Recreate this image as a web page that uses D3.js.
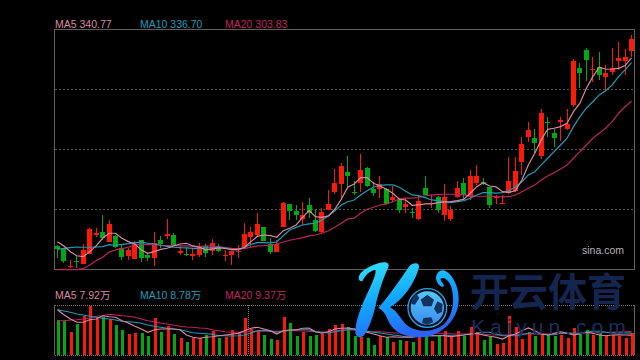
<!DOCTYPE html>
<html>
<head>
<meta charset="utf-8">
<style>
  html, body { margin: 0; padding: 0; background: #000; }
  svg { display: block; }
  text { font-family: "Liberation Sans", "Noto Sans CJK SC", sans-serif; }
</style>
<script src="https://d3js.org/d3.v7.min.js"></script>
</head>
<body>
<svg id="chart" width="640" height="360"></svg>
<script>
// candles
const highs = [180.1,177.6,167.3,171.6,181,194.5,194.5,205.9,201.6,188.7,180.1,177.8,183.8,184.4,173,191.3,188.1,202.5,190.2,179.3,177.3,176.7,181.9,181,185.3,181,175.9,175.3,180.1,198.8,195.9,207.4,195.3,185.9,184.4,217.3,215.4,214.5,217.3,220.3,210.8,211.7,227.4,245.2,250.3,256.6,235.1,258.3,246.9,234.5,239.4,228.8,230.8,220.3,220.3,211.7,223.1,239.7,223.1,222.2,232.3,213.6,235.1,238,244.6,248.9,238,230.2,223.1,223.1,255.5,255.5,273.2,285.5,279.8,297,289.8,279.8,289.8,297,339.9,336.2,349.6,341.4,345.7,334.8,349.6,354.3,348.5,360.5];
const lows = [168.7,164.9,160.1,160.1,163.8,172,187.3,184.4,182.7,177.8,167.3,167.3,167.9,165.8,166.4,162.1,177.3,185,179.3,171.6,170.7,167.3,169.8,170.1,171.5,174.4,166.7,163,168.7,177.3,177.3,187.3,183.6,172.4,174.4,195.3,201.6,201.6,197.3,203.1,191.6,190.2,210.2,223.9,218.8,230.2,223.1,225.9,229.7,222.2,220.3,214.5,217.3,207.4,207.9,203.3,201.6,223.1,211.7,207.9,200.8,201,220.3,219.4,218.8,231.7,231.7,211.7,215,215.4,223.9,225.9,240.3,268.9,258.9,254,273.2,264.6,269.7,278.9,298.9,315.3,321,320.4,321.9,312.7,326.2,330.5,326.2,341.9];
const opens = [179.3,177.3,161,166.7,164.1,172.4,188.7,191.3,182.7,188.1,177.6,170.7,168.1,184.4,171.6,169.2,184.4,187.9,188.7,173.5,172.4,171,171.5,179.3,175,178.7,171,171.6,174.1,178.2,187,188.7,195.3,180.7,174.4,195.3,215.4,209.3,202.2,214.5,201.6,191.6,210.2,225.9,232.5,242.8,225.7,233.7,246.3,228,228,228.2,218.8,219.4,212.5,208.5,202.5,229.1,215.1,221.6,205.7,202.5,221.4,233.7,221.6,233.7,234.3,229.7,220.1,215.4,224.6,226.8,251.7,272.9,271.8,256.9,285.8,276.6,286.1,279.8,300.4,332.2,347.7,330.7,333,324.5,328.8,338.5,338.5,346.8];
const closes = [176.7,166.4,162.1,165.8,175.8,193.6,190.4,186.2,198.2,178.7,169.8,175.9,181,169.2,169.2,181.6,181,189.6,180.1,174.7,171.6,172.4,178.4,173,181.6,175.3,171.6,174.7,175,189.6,191.3,198.2,183.6,174.4,180.7,216.5,209.3,205.9,205.9,207.4,192.2,208.5,215.4,233.7,248,239.4,224.6,244.6,230.8,225.1,232.3,215.4,221.4,210.2,215.6,207.6,217.9,223.1,216.2,210.2,221.1,210.2,229.1,223.1,239.4,239.4,232.5,214.5,221.1,216.2,235.1,243.7,266.9,278.7,267.5,293.5,284.9,272.1,287.5,284.1,338.2,327.9,339.1,331.6,326.2,327.9,331.9,340.8,341.6,357.1];

const ma5 = [183,179.3,174.4,170.9,170.1,174.4,179.3,185.9,190.2,190.2,185.9,183,181,175.9,173,174.4,176.4,177.3,179.3,181,181.6,179.3,178.2,175.9,176.7,177.6,177.1,176.4,176.4,178.2,183,187.6,188.7,188.1,186.8,192.4,194.5,197.3,203.9,209.6,204.5,203.9,205.1,210.8,219.4,229.7,232.5,238,238,233.1,230.8,228,224.6,219.4,218.8,214.2,214.5,215.4,215.4,216.5,217.1,217.3,218.2,219.4,224.6,230.2,233.7,230.8,230,225.9,225.4,226.8,236,248.9,258.9,270.4,279.5,280.4,281.8,284.7,294.7,301.9,314.7,324.7,332.8,331.1,331.3,331.9,334.2,340.8];
const ma10 = [176.4,177.3,177.8,178.4,178.2,178.2,178.4,178.7,180.4,179.9,180.7,181.3,182.1,182.5,181.6,181,179.9,179,178.2,177.8,177.6,177.3,177.3,177.6,177.6,178,177.6,175.9,175.9,177.8,180.7,182.1,182.1,181.9,182.7,188.1,193,195.3,197.3,198.2,198.8,201.6,205.1,209.4,214.5,217.3,218.8,223.1,226.8,229.7,231.4,231.7,231.7,229.7,226.3,223.1,222.5,220.8,218.8,218.2,217.1,216.5,217.3,218.2,220.3,223.1,225.1,225.1,224.6,225.1,226.8,230.2,234.5,240.3,243.1,248.9,254.6,260.3,266,271.8,281.8,290.4,297.6,303.2,309,312.7,317.6,324.7,330.5,336.7];
const ma20 = [159,159,159,159,159.8,163,166.7,169.6,173.9,175.9,177,178.2,180.4,181,180.4,180.4,179.9,179.5,179.5,179.3,179.3,179,178.7,179.3,179.3,178.7,177.8,177.3,177,177,178.2,179.3,179.5,179.9,181,182.7,184.2,185.3,186.4,187.9,188.7,190.2,192.4,195.3,198.8,202.5,203.1,207.4,210.8,212.5,214.5,215.4,217.3,219.7,220.3,220.3,221.1,222.2,223.1,223.4,223.7,223.7,223.4,223.1,222.5,222,222,222.2,221.6,221.4,221.6,223.1,225.9,228.9,231.7,236,239.4,242.2,245.4,248.9,254.6,260.3,266,271.8,276.1,280.4,286.1,293.3,298.9,303.83];

// volume, in 万
const volumes = [14.1,13.5,9.1,12.3,15.7,19.7,14.4,15.1,14.4,12.1,10.1,8.5,8.9,8.9,7.7,14.9,9.1,11.7,8.5,6.7,5.3,6.7,6.8,8,9.7,6.7,7.1,10.1,8.8,14.7,10.4,10.1,8.1,6.5,6.1,15.3,12.9,7.7,9.3,7.7,8.1,8.3,10.5,12.1,12.5,11.1,7.7,7.1,6.7,4.1,7.5,7.1,5.3,6.1,5.7,5.3,7.1,8.8,5.7,7.7,9.7,7.1,9.7,7.7,11.2,9.3,6.1,7.1,4.5,4.9,15.7,11.3,6.4,9.1,7.7,8,8.1,7.5,8,6.7,10.9,8.4,10.1,8.1,8.7,7.5,8.1,7.5,6.7,8.7];
const volMa5 = [18.1,16.1,14.4,13.1,13.1,14.1,14.4,15.7,15.3,15.1,13.7,12.8,11.5,10.4,9.1,10.1,10.4,10.4,10.4,10.1,8,7.1,6.7,7.1,7.3,7.7,8,8.3,8.7,9.7,10.7,11.1,10.4,9.7,8.4,9.7,10,10,10.7,10.8,9.3,8.7,9.3,10.4,10.7,10.8,10.4,9.7,9.1,8.4,7.7,7.1,7.3,7.1,7.1,7.1,7.5,7.7,7.7,7.7,7.7,7.3,7.7,8,8.4,8.7,8,7.5,7.1,6.4,7.7,8.4,9.7,10.8,9.7,8.4,8,8.7,9.3,8.7,8,8.4,9.1,8.7,8,7.7,8,8.1,8,7.92];
const volMa10 = [18.1,17.6,17.1,16.4,16,15.5,15.1,14.7,14.4,14,13.5,13.3,13.1,12.7,12,11.5,11.1,10.7,10.4,10.1,9.5,8.9,8.7,8.5,8.3,7.7,7.7,7.6,7.7,8,8.8,9.7,9.9,9.5,9.1,9.5,10,10.1,10.1,10.1,9.3,9.1,8.8,9.3,9.7,10.1,10.4,9.7,9.5,9.1,8.8,8.4,8,7.7,7.3,7.3,7.5,7.7,7.7,7.7,8,7.7,7.7,8,8.4,8.7,9.1,9.1,8.4,7.7,7.7,7.7,8.1,8.7,8.7,8.4,8.1,8.1,8.7,8.7,8.7,8.8,9.1,9.5,9.5,9.1,8.8,8.8,8.8,8.78];
const volMa20 = [13.7,13.7,14,14.1,14.4,14.7,15.5,15.7,16.3,16,15.7,15.5,15.1,14.4,13.7,13.3,12.8,12.4,12,11.5,11.2,11.1,10.8,10.7,10.1,9.7,9.3,9.1,9.1,9.1,9.5,9.5,9.5,9.5,9.5,9.6,9.7,9.7,9.6,9.5,9.3,9.1,9.3,9.7,10,10,10,9.7,9.5,9.3,9.3,9.1,8.8,8.8,8.7,8.7,8.7,8.7,8.7,8.7,8.7,8.4,8.4,8.4,8.4,8.4,8.3,8.1,8,8,8.1,8.3,8.4,8.4,8.4,8.4,8.4,8.5,8.7,8.7,8.7,8.7,8.8,8.9,9.1,9.1,9.1,9.2,9.3,9.37];

const priceLabels = ['MA5 340.77', 'MA10 336.70', 'MA20 303.83'];
const volumeLabels = ['MA5 7.92万', 'MA10 8.78万', 'MA20 9.37万'];
const priceGrid = [313.3, 261.75, 210.2];

const colors = { up: '#fb1a08', down: '#00a812', frame: '#5f5f5f', grid: '#555555' };
const maColors = ['#dc88a2', '#1f9cb8', '#c0245f'];

const svg = d3.select('#chart');

const x = d3.scaleBand().domain(d3.range(highs.length)).range([54.25, 634.75]);
const cx = i => x(i) + x.bandwidth() / 2;
const yPrice = d3.scaleLinear().domain([159.5, 364.8]).range([269, 30]);
const yVol = d3.scaleLinear().domain([0, 20]).range([355, 305]);

const isUp = i => closes[i] >= opens[i];
const tone = i => isUp(i) ? colors.up : colors.down;

// frames and grid
svg.append('rect').attr('width', 640).attr('height', 360).attr('fill', '#000');

svg.append('rect')
  .attr('x', 54.5).attr('y', 29.5).attr('width', 580).attr('height', 240)
  .attr('fill', 'none').attr('stroke', colors.frame);

svg.append('g').selectAll('line')
  .data(priceGrid)
  .join('line')
  .attr('x1', 55).attr('x2', 634)
  .attr('y1', d => Math.round(yPrice(d)) - 0.5)
  .attr('y2', d => Math.round(yPrice(d)) - 0.5)
  .attr('stroke', colors.grid)
  .attr('stroke-dasharray', '2,2');

// candles
const candles = svg.append('g').attr('shape-rendering', 'crispEdges');
candles.selectAll('.wick')
  .data(d3.range(highs.length))
  .join('rect')
  .attr('class', 'wick')
  .attr('x', i => Math.round(cx(i) - 0.5))
  .attr('width', 1)
  .attr('y', i => Math.round(yPrice(highs[i])))
  .attr('height', i => Math.max(1, Math.round(yPrice(lows[i])) - Math.round(yPrice(highs[i]))))
  .attr('fill', tone);

candles.selectAll('.body')
  .data(d3.range(highs.length))
  .join('rect')
  .attr('class', 'body')
  .attr('x', i => Math.round(cx(i) - 2.5))
  .attr('width', 5)
  .attr('y', i => Math.round(yPrice(Math.max(opens[i], closes[i]))))
  .attr('height', i => Math.max(1, Math.round(yPrice(Math.min(opens[i], closes[i]))) - Math.round(yPrice(Math.max(opens[i], closes[i])))))
  .attr('fill', tone);

function drawLines(series, yScale) {
  const line = d3.line().x((d, i) => cx(i)).y(d => yScale(d));
  // MA5 goes on top, so paint from the last series back
  const items = series.map((values, k) => ({ values, color: maColors[k] })).reverse();
  svg.append('g').selectAll('path')
    .data(items)
    .join('path')
    .attr('d', d => line(d.values))
    .attr('fill', 'none')
    .attr('stroke', d => d.color)
    .attr('stroke-width', 1.2);
}

drawLines([ma5, ma10, ma20], yPrice);

svg.append('text')
  .attr('x', 582).attr('y', 253.5)
  .attr('font-size', 10.5)
  .attr('fill', '#b4b4b4')
  .text('sina.com');

function drawLabels(labels, y) {
  svg.append('g').selectAll('text')
    .data(labels)
    .join('text')
    .attr('x', (d, i) => 55 + i * 85)
    .attr('y', y)
    .attr('font-size', 10.5)
    .attr('fill', (d, i) => maColors[i])
    .text(d => d);
}
drawLabels(priceLabels, 28);
drawLabels(volumeLabels, 299);

// volume panel
const volFrame = svg.append('g').attr('stroke', colors.frame).attr('fill', 'none');
volFrame.append('line').attr('x1', 54.5).attr('x2', 54.5).attr('y1', 305).attr('y2', 355);
volFrame.append('line').attr('x1', 634.5).attr('x2', 634.5).attr('y1', 305).attr('y2', 355);
[305.5, 355.5].forEach(yy => {
  svg.append('line')
    .attr('x1', 55).attr('x2', 634).attr('y1', yy).attr('y2', yy)
    .attr('stroke', '#7a7a7a').attr('stroke-dasharray', '1,1');
});
svg.append('line')
  .attr('x1', 248.5).attr('x2', 248.5).attr('y1', 305).attr('y2', 355)
  .attr('stroke', '#7a7a7a').attr('stroke-dasharray', '1,1');

svg.append('g').attr('shape-rendering', 'crispEdges').selectAll('rect')
  .data(volumes)
  .join('rect')
  .attr('x', (d, i) => Math.round(cx(i) - 0.5))
  .attr('width', 3)
  .attr('y', d => Math.round(yVol(d)))
  .attr('height', d => yVol(0) - Math.round(yVol(d)))
  .attr('fill', (d, i) => tone(i));

drawLines([volMa5, volMa10, volMa20], yVol);

// watermark laid over the chart
const defs = svg.append('defs');
const logoGrad = defs.append('linearGradient').attr('id', 'logoGrad').attr('gradientUnits', 'userSpaceOnUse')
  .attr('x1', 100).attr('y1', 10).attr('x2', 160).attr('y2', 240);
logoGrad.append('stop').attr('offset', 0).attr('stop-color', '#2fdcf6');
logoGrad.append('stop').attr('offset', 0.5).attr('stop-color', '#12a4ff');
logoGrad.append('stop').attr('offset', 1).attr('stop-color', '#2b62f2');
const ballGrad = defs.append('linearGradient').attr('id', 'ballGrad').attr('x1', 0).attr('y1', 0).attr('x2', 0).attr('y2', 1);
ballGrad.append('stop').attr('offset', 0).attr('stop-color', '#53c8f6');
ballGrad.append('stop').attr('offset', 1).attr('stop-color', '#3b8cf0');

const logo = svg.append('g').attr('transform', 'translate(350,258) scale(0.3333)');
logo.append('path')
  .attr('fill', 'url(#logoGrad)')
  .attr('d', 'M26,60 C26,42 55,25 85,16 C105,10 120,12 115,28 C100,60 85,105 75,150 C68,180 55,215 42,232 C32,242 20,240 16,225 C14,195 35,140 55,100 C68,72 80,45 76,35 C60,38 45,52 38,68 C34,72 27,70 26,60 Z');
logo.append('path')
  .attr('fill', 'url(#logoGrad)')
  .attr('d', 'M85,150 C115,118 150,65 178,25 C188,12 210,12 207,28 C195,75 160,125 120,148 C145,160 150,185 175,205 C205,225 250,222 280,200 C305,180 318,130 303,85 C296,65 280,56 272,62 C270,70 282,75 282,85 C275,90 262,80 258,62 C258,45 270,32 285,38 C312,50 332,100 325,140 C318,185 280,228 225,237 C175,243 135,225 118,195 C108,175 105,160 85,150 Z');
logo.append('circle').attr('cx', 232).attr('cy', 150).attr('r', 58)
  .attr('fill', '#05101c').attr('stroke', '#2a9fe6').attr('stroke-width', 4);
logo.append('circle').attr('cx', 232).attr('cy', 150).attr('r', 50).attr('fill', 'url(#ballGrad)');
logo.append('g').attr('fill', '#12335f').selectAll('path')
  .data([
    'M212,125 L232,110 L252,125 L245,145 L220,145 Z',
    'M186,120 L200,108 L208,120 L195,140 L184,138 Z',
    'M262,130 L278,138 L276,162 L262,168 L252,152 Z',
    'M220,180 L244,178 L250,192 L232,200 L216,194 Z'
  ])
  .join('path')
  .attr('d', d => d);

svg.append('text')
  .attr('x', 470).attr('y', 306)
  .attr('font-family', '"Noto Sans CJK SC"')
  .attr('font-size', 39)
  .attr('font-weight', 700)
  .attr('fill', '#14264f')
  .text('开云体育');

svg.append('text')
  .attr('x', 471).attr('y', 334)
  .attr('font-size', 21)
  .attr('letter-spacing', 5)
  .attr('fill', '#1a2f5e')
  .text('Kaiyun.com');
</script>
</body>
</html>
